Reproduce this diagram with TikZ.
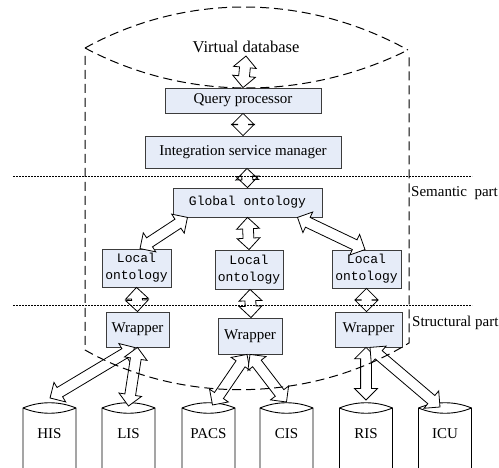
\documentclass[tikz,border=0pt]{standalone}
\usepackage{fontspec}
\setmainfont{Liberation Serif}
\setmonofont{Liberation Mono}
\usetikzlibrary{shapes.arrows,calc}
\definecolor{boxfill}{RGB}{230,236,248}
\definecolor{boxline}{RGB}{60,60,60}
\tikzset{
  box/.style={draw=boxline, fill=boxfill, line width=0.8pt, inner sep=0pt, font=\fontsize{15}{17}\selectfont},
  onto/.style={box, align=center, font=\ttfamily\fontsize{13}{17}\selectfont},
  bigarrow/.style={double arrow, draw, fill=white, line width=0.8pt, inner xsep=0pt, inner ysep=5pt, double arrow head extend=6pt},
  lbl/.style={inner sep=0pt, font=\fontsize{15}{17}\selectfont},
  sepline/.style={line width=0.6pt, dash pattern=on 2pt off 1pt},
  vdb line/.style={line width=1pt, dash pattern=on 9pt off 5pt}
}
% hollow double arrow between two points
\newcommand{\bigarr}[2]{%
  \path let \p1=(#1), \p2=(#2), \n1={atan2(\y2-\y1,\x2-\x1)}, \n2={veclen(\x2-\x1,\y2-\y1)}
    in node[bigarrow, minimum height=\n2, rotate=\n1] at ($(\p1)!0.5!(\p2)$) {};}
\begin{document}
\begin{tikzpicture}[x=1pt, y=-1pt]
  \useasboundingbox (0,0) rectangle (499,468);
  % virtual database
  \node[lbl, font=\fontsize{16.5}{18}\selectfont] (vdb) at (246,47) {Virtual database};
  \node[box, minimum width=156pt, minimum height=25pt] (qp) at (243,100.5) {Query processor};
  \node[box, minimum width=196pt, minimum height=32pt] (ism) at (243,152) {Integration service manager};
  \node[onto, minimum width=149pt, minimum height=29pt] (go) at (247.5,202.5) {Global ontology};
  \node[onto, minimum width=69pt, minimum height=38pt] (lo1) at (136.5,268) {Local\\ontology};
  \node[onto, minimum width=68pt, minimum height=39pt] (lo2) at (249,269.5) {Local\\ontology};
  \node[onto, minimum width=69pt, minimum height=38pt] (lo3) at (366.5,269) {Local\\ontology};
  \node[box, minimum width=63pt, minimum height=35pt] (wr1) at (137.5,329.5) {Wrapper};
  \node[box, minimum width=64pt, minimum height=36pt] (wr2) at (250,336) {Wrapper};
  \node[box, minimum width=67pt, minimum height=35pt] (wr3) at (368.5,329.5) {Wrapper};
  % sources
  \foreach \cx/\cn/\ct in {49.5/his/HIS, 128.5/lis/LIS, 208.5/pacs/PACS, 286.5/cis/CIS, 366/ris/RIS, 445/icu/ICU} {
    \draw[line width=0.9pt] (\cx-26.5,470) -- (\cx-26.5,408) .. controls (\cx-10,401) and (\cx+10,401) .. (\cx+26.5,408) -- (\cx+26.5,470);
    \draw[line width=0.9pt] (\cx-26.5,408) .. controls (\cx-10,415) and (\cx+10,415) .. (\cx+26.5,408);
    \coordinate (\cn T) at (\cx,403);
    \node[lbl] (\cn) at (\cx,434) {\ct};
  }
  % arrows
  \bigarr{[yshift=-3pt]vdb.south}{qp.north}
  \bigarr{qp.south}{ism.north}
  \bigarr{[xshift=4pt]ism.south}{go.north}
  \bigarr{[xshift=-60pt]go.south}{[xshift=3.5pt]lo1.north}
  \bigarr{go.south}{lo2.north}
  \bigarr{[xshift=50pt]go.south}{[xshift=-1.5pt]lo3.north}
  \bigarr{lo1.south}{wr1.north}
  \bigarr{[xshift=1pt]lo2.south}{[xshift=1pt]wr2.north}
  \bigarr{lo3.south}{[xshift=-2pt]wr3.north}
  \bigarr{[xshift=-3pt]wr1.south}{[xshift=0.5pt,yshift=5pt]hisT}
  \bigarr{wr1.south}{[yshift=-3pt]lisT}
  \bigarr{[xshift=-3pt]wr2.south}{[xshift=4pt,yshift=-2pt]pacsT}
  \bigarr{wr2.south}{[yshift=1pt]cisT}
  \bigarr{[xshift=-2.5pt]wr3.south}{[yshift=3pt]risT}
  \bigarr{[xshift=1.5pt]wr3.south}{[xshift=-5pt,yshift=-4pt]icuT}
  % dashed cylinder of the virtual database
  \draw[vdb line] (85,48) .. controls (185,-7) and (305,-7) .. (408,50);
  \draw[vdb line] (85,48) .. controls (185,101) and (305,101) .. (408,50);
  \draw[vdb line] (85,56) -- (85,350) .. controls (180,404) and (310,404) .. (409,343) -- (409,56);
  % parts
  \draw[sepline] (13,176) -- (472,176);
  \draw[sepline] (13,305) -- (472,305);
  \node[lbl, anchor=west] (sem) at (411,193) {Semantic\ \ part};
  \node[lbl, anchor=west] (str) at (412,323) {Structural part};
\end{tikzpicture}
\end{document}
